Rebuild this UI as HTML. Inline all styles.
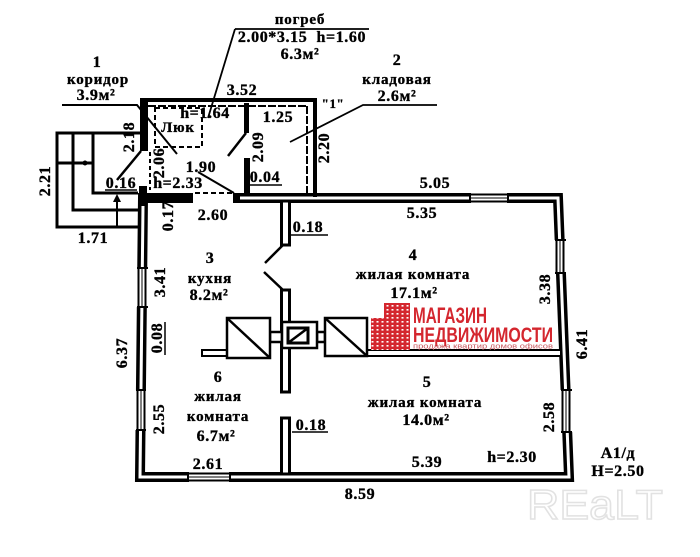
<!DOCTYPE html>
<html><head><meta charset="utf-8">
<style>
html,body{margin:0;padding:0;background:#fff;}
svg{display:block;}
text{font-family:"Liberation Serif","DejaVu Serif",serif;font-weight:bold;fill:#000;stroke:#000;stroke-width:0.35px;font-size:16px;letter-spacing:0.6px;}
.c{font-size:15px;letter-spacing:0.8px;}
.s{font-family:"Liberation Sans","DejaVu Sans",sans-serif;stroke:none;}
</style></head><body>
<svg width="700" height="557" viewBox="0 0 700 557" xmlns="http://www.w3.org/2000/svg">
<defs>
<pattern id="win" width="5" height="4" patternUnits="userSpaceOnUse">
<rect width="5" height="4" fill="#d4262e"/><rect x="1.5" y="1" width="2" height="1.6" fill="#fff"/>
</pattern>
</defs>
<rect width="700" height="557" fill="#fff"/>

<!-- main block walls -->
<path d="M193,198 L143,198 L140,477 L569,477 L558,198 L233,198" fill="none" stroke="#000" stroke-width="10" stroke-linejoin="miter"/>
<path d="M143,206 L140,477 L569,477 L558,198 L240,198" fill="none" stroke="#fff" stroke-width="3" stroke-linejoin="miter"/>

<!-- windows -->
<g stroke="#000" fill="none">
<rect x="470" y="192" width="38" height="12" fill="#fff" stroke="none"/>
<path d="M470,194.5H508M470,201.5H508" stroke-width="2"/><path d="M470,198H508" stroke-width="1"/>
<path d="M470,193V203M508,193V203" stroke-width="2"/>

<rect x="188" y="471" width="42" height="12" fill="#fff" stroke="none"/>
<path d="M188,473.5H230M188,480.5H230" stroke-width="2"/><path d="M188,477H230" stroke-width="1"/>
<path d="M188,472V482M230,472V482" stroke-width="2"/>

<rect x="136" y="268" width="13" height="39" fill="#fff" stroke="none"/>
<path d="M138.5,268V307M145.5,268V307" stroke-width="2"/><path d="M142,268V307" stroke-width="1"/>
<path d="M137,268H148M137,307H148" stroke-width="2"/>

<rect x="135" y="390" width="13" height="40" fill="#fff" stroke="none"/>
<path d="M137.5,390V430M144.5,390V430" stroke-width="2"/><path d="M141,390V430" stroke-width="1"/>
<path d="M136,390H146M136,430H146" stroke-width="2"/>

<rect x="554" y="240" width="13" height="33" fill="#fff" stroke="none"/>
<path d="M556.5,240V273M563.5,240V273" stroke-width="2"/><path d="M560,240V273" stroke-width="1"/>
<path d="M555,240H566M555,273H566" stroke-width="2"/>

<rect x="560" y="390" width="13" height="42" fill="#fff" stroke="none"/>
<path d="M562.5,390V432M569.5,390V432" stroke-width="2"/><path d="M566,390V432" stroke-width="1"/>
<path d="M561,390H572M561,432H572" stroke-width="2"/>
</g>

<!-- interior walls -->
<g stroke="#000" stroke-width="3" fill="#fff">
<rect x="281.5" y="201" width="8" height="44"/>
<rect x="281.5" y="290" width="8" height="102"/>
<rect x="281.5" y="418" width="8" height="56"/>
<rect x="367" y="350" width="194" height="6" stroke-width="2"/>
<rect x="202" y="350" width="25" height="6" stroke-width="2"/>
</g>
<g stroke="#000" stroke-width="2.5">
<line x1="265" y1="263" x2="283" y2="245"/>
<line x1="264" y1="272" x2="283" y2="290"/>
</g>

<!-- stove -->
<g stroke="#000" stroke-width="2.5" fill="#fff">
<rect x="270" y="332" width="12" height="10"/>
<rect x="317" y="332" width="8" height="10"/>
<rect x="227" y="318" width="43" height="40"/>
<line x1="227" y1="318" x2="270" y2="358"/>
<rect x="282" y="322" width="35" height="26"/>
<rect x="288" y="328" width="20" height="15" stroke-width="3"/>
<line x1="288" y1="343" x2="308" y2="328"/>
<rect x="325" y="318" width="42" height="38"/>
<line x1="325" y1="318" x2="367" y2="356"/>
</g>

<!-- upper block -->
<g stroke="#000" fill="none">
<path d="M140,100H317" stroke-width="4"/>
<path d="M315,98V197" stroke-width="4"/>
<path d="M148,106H307" stroke-width="2" stroke-dasharray="8 2"/>
<path d="M307,106V193" stroke-width="2" stroke-dasharray="8 2"/>
<rect x="155" y="108" width="47" height="39" stroke-width="2" stroke-dasharray="5 3"/>
<path d="M150,152V190" stroke-width="2" stroke-dasharray="4 3"/>
<path d="M195,193H234" stroke-width="2" stroke-dasharray="5 3"/>
<line x1="198" y1="172" x2="234" y2="193" stroke-width="2"/>
<path d="M62,105H137L177,154" stroke-width="2"/>
<line x1="141" y1="151" x2="117" y2="180" stroke-width="2.5"/>
<line x1="246" y1="133" x2="228" y2="156" stroke-width="2.5"/>
<path d="M235,29H369M235,29L208,118" stroke-width="1.8"/>
<path d="M437,105H363L290,142" stroke-width="1.8"/>
</g>
<rect x="140" y="98" width="8" height="53" fill="#000"/>
<rect x="139" y="186" width="8" height="8" fill="#000"/>
<rect x="244" y="103" width="5" height="30" fill="#000"/>
<rect x="244" y="158" width="6" height="36" fill="#000"/>

<!-- outbuilding lines -->
<g stroke="#000" stroke-width="3" fill="none">
<path d="M140,133H57V227H138"/>
<path d="M73,133V210H138"/>
<path d="M93,133V193H138"/>
<path d="M57,163H93"/>
<path d="M117,198V227" stroke-width="2"/>
</g>
<circle cx="85" cy="163" r="2.5" fill="#000"/>
<path d="M113,202L117,194L121,202Z" fill="#000"/>

<!-- logo -->
<rect x="371" y="318" width="14" height="32" fill="url(#win)"/>
<rect x="384" y="303" width="26" height="47" fill="url(#win)"/>
<text class="s" x="413" y="323" textLength="74" lengthAdjust="spacingAndGlyphs" style="fill:#d4262e;font-size:22px;letter-spacing:0">МАГАЗИН</text>
<text class="s" x="413" y="342" textLength="140" lengthAdjust="spacingAndGlyphs" style="fill:#d4262e;font-size:21px;letter-spacing:0">НЕДВИЖИМОСТИ</text>
<text class="s" x="413" y="348.5" textLength="140" lengthAdjust="spacingAndGlyphs" style="fill:#c85a60;font-size:7px;font-weight:normal;letter-spacing:0">продажа квартир домов офисов</text>

<!-- watermark -->
<text class="s" x="527" y="519" textLength="136" lengthAdjust="spacingAndGlyphs" style="fill:none;stroke:#e2e2e2;stroke-width:1.5;font-size:42px;font-weight:normal;letter-spacing:0">REaLT</text>

<!-- labels -->
<g text-anchor="middle">
<text class="c" x="300" y="24">погреб</text>
<text x="302" y="42" xml:space="preserve">2.00*3.15  h=1.60</text>
<text x="300" y="59">6.3м²</text>
<text x="97" y="67">1</text>
<text class="c" x="98" y="84">коридор</text>
<text x="96" y="100">3.9м²</text>
<text x="242" y="95">3.52</text>
<text x="205" y="118">h=1.64</text>
<text class="c" x="178" y="132">Люк</text>
<text x="278" y="122">1.25</text>
<text x="333" y="108" style="font-size:13px">"1"</text>
<text x="397" y="65">2</text>
<text class="c" x="397" y="84">кладовая</text>
<text x="397" y="101">2.6м²</text>
<text x="201" y="172">1.90</text>
<text x="265" y="182">0.04</text>
<text x="121" y="188">0.16</text>
<text x="178" y="188">h=2.33</text>
<text x="93" y="243">1.71</text>
<text x="213" y="220">2.60</text>
<text x="435" y="188">5.05</text>
<text x="422" y="218">5.35</text>
<text x="308" y="232">0.18</text>
<text x="210" y="263">3</text>
<text class="c" x="210" y="283">кухня</text>
<text x="209" y="300">8.2м²</text>
<text x="413" y="260">4</text>
<text class="c" x="413" y="279">жилая комната</text>
<text x="414" y="298">17.1м²</text>
<text x="427" y="387">5</text>
<text class="c" x="425" y="407">жилая комната</text>
<text x="426" y="425">14.0м²</text>
<text x="512" y="462">h=2.30</text>
<text x="427" y="467">5.39</text>
<text x="618" y="458">А1/д</text>
<text x="618" y="476">Н=2.50</text>
<text x="360" y="499">8.59</text>
<text x="218" y="382">6</text>
<text class="c" x="218" y="401">жилая</text>
<text class="c" x="218" y="421">комната</text>
<text x="216" y="441">6.7м²</text>
<text x="311" y="430">0.18</text>
<text x="208" y="469">2.61</text>
</g>
<g stroke="#000" stroke-width="1.5">
<line x1="250" y1="185" x2="282" y2="185"/>
<line x1="105" y1="190" x2="137" y2="190"/>
<line x1="291" y1="235" x2="328" y2="235"/>
<line x1="292" y1="432" x2="328" y2="432"/>
<line x1="165" y1="322" x2="165" y2="355"/>
</g>

<!-- rotated labels -->
<g text-anchor="middle">
<text transform="translate(258,147) rotate(-90)" dy="5">2.09</text>
<text transform="translate(324,148) rotate(-90)" dy="5">2.20</text>
<text transform="translate(129,137) rotate(-90)" dy="5">2.18</text>
<text transform="translate(159,163) rotate(-90)" dy="5">2.06</text>
<text transform="translate(45,181) rotate(-90)" dy="5">2.21</text>
<text transform="translate(168,216) rotate(-90)" dy="5">0.17</text>
<text transform="translate(160,282) rotate(-90)" dy="5">3.41</text>
<text transform="translate(157,338) rotate(-90)" dy="5">0.08</text>
<text transform="translate(122,353) rotate(-90)" dy="5">6.37</text>
<text transform="translate(545,289) rotate(-90)" dy="5">3.38</text>
<text transform="translate(582,344) rotate(-90)" dy="5">6.41</text>
<text transform="translate(549,417) rotate(-90)" dy="5">2.58</text>
<text transform="translate(159,419) rotate(-90)" dy="5">2.55</text>
</g>
</svg>
</body></html>
